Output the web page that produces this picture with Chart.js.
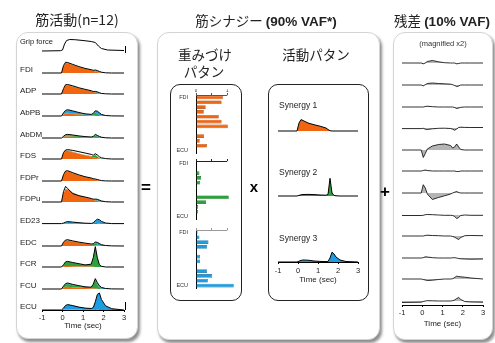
<!DOCTYPE html>
<html>
<head>
<meta charset="utf-8">
<script src="https://cdn.jsdelivr.net/npm/chart.js@4.4.1/dist/chart.umd.min.js"></script>
<style>
  body { margin: 0; width: 495px; height: 343px; background: #fff; position: relative; overflow: hidden;
         font-family: "Liberation Sans", Arial, sans-serif; -webkit-font-smoothing: antialiased; }
  .box { position: absolute; border: 1px solid #d4d4d4; border-radius: 12px; background: #fff;
         box-shadow: 2px 3px 3px rgba(0,0,0,0.45); }
  .inner { position: absolute; border: 1px solid #222; border-radius: 10px; }
  .lbl { position: absolute; white-space: nowrap; color: #222; will-change: transform; }
  .jp { font-family: "Noto Sans CJK JP", sans-serif; }
  canvas { position: absolute; }
</style>
</head>
<body>
<div class="box" style="left:16px;top:32px;width:120px;height:305px"></div>
<div class="box" style="left:157px;top:32px;width:221px;height:306px"></div>
<div class="box" style="left:393px;top:32px;width:98px;height:306px"></div>
<div class="inner" style="left:170px;top:84px;width:70px;height:215px"></div>
<div class="inner" style="left:268px;top:84px;width:99px;height:215px"></div>

<script>
// time axis
const timeTicks = [-1, 0, 1, 2, 3];
const T = [-1, -0.05, 0.05, 0.15, 0.25, 0.5, 0.8, 1.1, 1.4, 1.5, 1.6, 1.7, 1.8, 1.9, 2.1, 2.4, 3];

const muscles = ["FDI", "ADP", "AbPB", "AbDM", "FDS", "FDPr", "FDPu", "ED23", "EDC", "FCR", "FCU", "ECU"];

// grip force trace
const gripTime = [-1, -0.1, 0, 0.1, 0.2, 0.35, 0.6, 1.0, 1.4, 1.6, 1.75, 1.9, 2.2, 3];
const gripForce = [0, 0.3, 1, 7, 10.5, 11.5, 11.3, 10.5, 9.5, 8.5, 5, 2.5, 1, 0.5];

// EMG reconstruction, part from synergy 1 (orange)
const emgSyn1 = [
  [0,0,7,10,9.8,8,6,4.3,3,2.2,1.5,1,0.6,0.3,0,0,0],
  [0,0,5,8.5,8.6,7.4,5.7,4.3,3,2,1.3,0.8,0.4,0.2,0,0,0],
  [0,0,1.5,2.5,2.5,2,1.5,1,0.6,0.4,0.2,0.1,0,0,0,0,0],
  [0,0,1,1.6,1.6,1.3,1,0.7,0.4,0.3,0.2,0,0,0,0,0,0],
  [0,0,6,8.5,8.3,6.8,5.3,3.8,2.6,1.8,1.2,0.7,0.3,0.1,0,0,0],
  [0,0,6,9.5,9.8,7.8,5.8,4,2.8,2,1.3,0.8,0.4,0.1,0,0,0],
  [0,0,9,13,12.5,9,6.5,4.7,3.2,2.3,1.5,1,0.5,0.2,0,0,0],
  [0,0,0,0.1,0.1,0.1,0.1,0,0,0,0,0,0,0,0,0,0],
  [0,0,3.5,5.2,5.4,4.4,3.4,2.5,1.6,1.1,0.7,0.4,0.2,0,0,0,0],
  [0,0,0.6,1,1,0.8,0.6,0.4,0.3,0.2,0.1,0,0,0,0,0,0],
  [0,0,1.5,2.2,2.3,1.8,1.4,1,0.7,0.5,0.3,0.2,0.1,0,0,0,0],
  [0,0,0.2,0.3,0.3,0.2,0.2,0.1,0,0,0,0,0,0,0,0,0]
];
// part from synergy 2 (green)
const emgSyn2 = [
  [0,0,0,0.2,0.3,0.3,0.2,0.2,0.2,0.4,1,0.6,0.2,0,0,0,0],
  [0,0,0,0.2,0.3,0.3,0.2,0.2,0.2,0.3,0.8,0.5,0.2,0,0,0,0],
  [0,0,0.3,0.6,0.7,0.6,0.5,0.3,0.4,1.5,3.5,2,0.6,0.2,0,0,0],
  [0,0,0.3,1,1.2,1,0.7,0.4,0.4,1,2.5,1.2,0.3,0.1,0,0,0],
  [0,0,0,0.3,0.4,0.4,0.3,0.2,0.3,1.2,3,1.5,0.4,0.1,0,0,0],
  [0,0,0,0.1,0.2,0.2,0.1,0.1,0.1,0.2,0.5,0.3,0.1,0,0,0,0],
  [0,0,0,0.1,0.2,0.2,0.1,0.1,0.1,0.3,0.7,0.4,0.1,0,0,0,0],
  [0,0,0.2,0.4,0.5,0.4,0.3,0.2,0.2,0.6,1.5,0.8,0.3,0.1,0,0,0],
  [0,0,0.1,0.3,0.4,0.3,0.2,0.2,0.2,0.8,2.2,1,0.3,0.1,0,0,0],
  [0,0,1.5,3.8,4.2,3.4,2.5,1.6,2.5,9,20,9,2,0.5,0,0,0],
  [0,0,1,2.3,2.6,2,1.5,1,1,4,9,4,1,0.3,0,0,0],
  [0,0,0.2,0.4,0.5,0.4,0.3,0.2,0.2,0.4,1,0.5,0.1,0,0,0,0]
];
// part from synergy 3 (blue)
const emgSyn3 = [
  [0,0,0,0.1,0.2,0.2,0.1,0,0,0,0.3,0.6,0.7,0.4,0.1,0,0],
  [0,0,0,0.2,0.3,0.3,0.2,0.1,0,0,0.3,0.6,0.6,0.3,0.1,0,0],
  [0,0,1.2,2.2,2.8,2.3,1.3,0.8,0.5,0.5,1.2,2.5,2.5,1.4,0.5,0.1,0],
  [0,0,0.2,0.6,0.7,0.6,0.3,0.2,0.1,0.2,0.6,1.2,1.2,0.6,0.2,0,0],
  [0,0,0,0,0.1,0.1,0,0,0,0,0.2,0.4,0.4,0.2,0,0,0],
  [0,0,0,0.1,0.2,0.2,0.1,0.1,0,0,0.1,0.3,0.3,0.2,0,0,0],
  [0,0,0,0.2,0.3,0.3,0.2,0.1,0,0.1,0.6,1.2,1.2,0.7,0.2,0,0],
  [0,0,0.5,1.2,1.6,1.3,0.8,0.5,0.3,0.4,1.5,3.5,3.6,2.2,0.8,0.2,0],
  [0,0,0.1,0.3,0.4,0.3,0.2,0.1,0.1,0.2,0.8,1.8,1.9,1.1,0.4,0.1,0],
  [0,0,0.1,0.3,0.4,0.3,0.2,0.1,0,0,0.1,0.3,0.3,0.2,0,0,0],
  [0,0,0.3,0.7,0.9,0.7,0.4,0.2,0.1,0.2,0.8,2,2.2,1.3,0.5,0.1,0],
  [0,0,1.5,3.8,4.6,3.8,2.4,1.6,1.3,2,7,15,16.5,10,4,1.2,0]
];
// recorded EMG (black outline)
const emgTotal = [
  [0,0,7.5,10.8,10.5,8.6,6.4,4.6,3.3,2.7,3,2.4,1.6,0.8,0.2,0,0],
  [0,0,5.5,9.3,9.5,8.2,6.2,4.7,3.3,2.5,2.6,2.1,1.3,0.6,0.2,0,0],
  [0,0,3.2,5.6,6.3,5.1,3.5,2.2,1.6,2.6,5.2,4.8,3.2,1.6,0.5,0.1,0],
  [0,0,1.7,3.3,3.6,3,2.1,1.4,1,1.6,3.6,2.6,1.6,0.8,0.2,0,0],
  [0,0,6.5,9,9.4,8.6,7.3,6,4.6,3.8,5.3,4,2.2,1.2,0.4,0,0],
  [0,0,6.4,10,10.3,8.3,6.1,4.3,3,2.3,2,1.5,0.9,0.4,0.1,0,0],
  [0,0,10.5,15.6,13.5,8.4,6.3,5,3.5,2.8,2.9,2.7,1.9,1,0.3,0,0],
  [0.4,0.4,0.9,1.9,2.4,1.9,1.3,0.8,0.6,1.1,3.3,4.8,4.3,2.6,1,0.4,0.4],
  [0,0,3.8,6,6.3,5.1,3.9,2.9,2,2.2,4,3.6,2.5,1.3,0.5,0.1,0],
  [0,0,2.3,5.2,5.6,4.5,3.3,2.1,2.8,9.3,20.4,9.3,2.3,0.7,0,0,0],
  [0,0,2.9,5.4,6,4.6,3.3,2.2,1.8,4.8,10.4,6.3,3.4,1.6,0.5,0.1,0],
  [0,0,1.9,4.6,5.4,4.4,2.9,1.9,1.5,2.4,8.2,15.6,17,10.5,4.2,1.3,0]
];

// activation patterns
const synergy1 = [0,0,8,11.4,10.5,8,6.3,4.8,3,1.5,0.3,0,0,0,0,0,0];
const synergy2 = [0,0,0.6,1.2,1.5,1.6,1.4,1,0.8,1.5,17.7,3,0.6,0.2,0,0,0];
const synergy3 = [0,0,0.8,1.6,2,1.8,1,0.6,0.4,0.5,4,9.8,8,5,2,0.5,0];

// weightings
const weightTicks = [0, 0.5, 1];
const weights1 = [0.86, 0.82, 0.31, 0.25, 0.73, 0.82, 1.02, 0, 0.26, 0.12, 0.35, 0];
const weights2 = [0.02, 0, 0.11, 0.16, 0.13, 0.04, 0, 1.05, 0.32, 0.07, 0.07, 0];
const weights3 = [0.05, 0.11, 0.40, 0.35, 0.03, 0.13, 0.13, 0, 0.35, 0.52, 0.38, 1.21];

// residual (magnified x2)
const residual = [
  [0,0,-0.8,0,1.5,2.5,1.2,0.3,0,0,0,-0.8,-0.5,0,0,0,0],
  [0,0,-0.8,0.3,1.5,2,1.5,1.2,0.8,0.3,-0.5,-1.5,-1,0,0,0,0],
  [0,0,0,0.5,0.8,0.3,0,0,0,0,-0.5,-1.5,-1,-0.3,0,0,0],
  [-0.6,-0.6,-0.3,-1.2,-1.5,-0.8,-0.3,-0.2,-0.5,-1.2,-2.2,-1,0.5,0.8,0.6,0.5,0.5],
  [0,0,-7.5,-3.5,1,4,5.5,6,4.5,2,3,6,3,0.5,0,0,0],
  [0,0,0.5,1,0.5,0,0,0,0,0,0,-0.5,-0.5,0,0,0,0],
  [0,0,8.3,5,-1,-6.5,-4.5,-2.8,-1,0,0.8,1.5,0.5,0,0,0,0],
  [-0.5,-0.5,-0.3,0.3,0.5,0.3,0,-0.3,-0.3,-0.5,-1.5,-3.5,-2.5,-0.5,0,-0.3,-0.3],
  [0,0,0,0.5,0.8,0.5,0.3,0,0,-0.5,-1.2,-2.5,-3.5,-1.5,0.3,0.5,0.3],
  [0,0,0.3,1.2,1,0.3,0,0,0,0.2,0.3,0,-0.5,-0.8,-1,-1.2,-1],
  [0,0,-0.5,-1,-1.5,-1.2,-0.5,0,0,0.3,1.5,2.8,2.5,2.2,1.8,1,0],
  [-1.5,-1.2,-0.5,0,0.3,0.2,0,0,0,0.3,1,2.5,3.5,1.5,-0.5,-1,-1.2]
];

const ORANGE = "#F0650F", GREEN = "#2BA33A", BLUE = "#1C9DE2";

Chart.defaults.font.family = '"Liberation Sans", Arial, sans-serif';
Chart.defaults.animation = false;
Chart.defaults.responsive = false;
Chart.defaults.events = [];
Chart.defaults.plugins.legend.display = false;
Chart.defaults.plugins.tooltip.enabled = false;
Chart.defaults.elements.point.radius = 0;
Chart.defaults.elements.line.tension = 0;

const pts = (ys, xs) => ys.map((y, i) => ({ x: xs[i], y: y }));

function addCanvas(left, top, w, h) {
  const c = document.createElement("canvas");
  c.width = w; c.height = h;
  c.style.left = left + "px"; c.style.top = top + "px";
  c.style.width = w + "px"; c.style.height = h + "px";
  document.body.appendChild(c);
  return c;
}

// text placed at integer pixels
function label(html, x, y, size, opt) {
  opt = opt || {};
  const d = document.createElement("div");
  d.className = "lbl" + (opt.jp ? " jp" : "");
  d.innerHTML = html;
  const lh = Math.round(size * 1.3);
  d.style.fontSize = size + "px";
  d.style.lineHeight = lh + "px";
  d.style.height = lh + "px";
  d.style.top = Math.round(y - lh / 2) + "px";
  if (opt.left) {
    d.style.left = Math.round(x) + "px";
  } else {
    d.style.left = Math.round(x - 100) + "px";
    d.style.width = "200px";
    d.style.textAlign = "center";
  }
  if (opt.color) d.style.color = opt.color;
  if (opt.bold) d.style.fontWeight = "bold";
  document.body.appendChild(d);
}

function timeAxis(ax) {
  return {
    type: "linear", min: -1, max: 3, position: "bottom",
    afterBuildTicks: (s) => { s.ticks = timeTicks.map((v) => ({ value: v })); },
    border: { display: true, color: "#000", width: 1 },
    grid: { display: true, drawOnChartArea: false, drawTicks: true, tickLength: ax.tl, color: "#000" },
    ticks: { padding: ax.pad, font: { size: 7.5 }, color: "#222", maxRotation: 0 },
    title: { display: true, text: "Time (sec)", padding: 0, font: { size: 8 }, color: "#222" },
    afterFit: (s) => { s.height = ax.h; }
  };
}

// small trace chart, 1 data unit = 1 px vertically
function traceChart(areaLeft, areaWidth, baseline, ymin, ymax, datasets, ax) {
  const padX = 8, padTop = 2;
  const axisH = ax ? ax.h : 0;
  const c = addCanvas(areaLeft - padX, Math.round(baseline - ymax - padTop),
                      areaWidth + 2 * padX, padTop + (ymax - ymin) + axisH);
  return new Chart(c, {
    type: "line",
    data: { datasets: datasets },
    options: {
      layout: { padding: { left: padX, right: padX, top: padTop, bottom: 0 } },
      scales: {
        x: ax ? timeAxis(ax) : { type: "linear", min: -1, max: 3, display: false },
        y: { display: false, min: ymin, max: ymax, stacked: true }
      }
    }
  });
}

// ---- left panel: muscle activity ----
label("筋活動(n=12)", 77, 19, 14, { jp: true });
label("Grip force", 20, 42, 7.5, { left: true });
traceChart(42, 82, 51, -1, 22, [
  { data: pts(gripForce, gripTime), borderColor: "#000", borderWidth: 1, fill: false }
]);

muscles.forEach((m, i) => {
  const base = 72.7 + 21.6 * i;
  const last = i === muscles.length - 1;
  label(m, 20, base - 3, 8, { left: true });
  traceChart(42, 82, base, last ? 0 : -1, 22, [
    { data: pts(emgSyn1[i], T), backgroundColor: ORANGE, borderWidth: 0, fill: "origin", stack: "s" },
    { data: pts(emgSyn2[i], T), backgroundColor: GREEN, borderWidth: 0, fill: "-1", stack: "s" },
    { data: pts(emgSyn3[i], T), backgroundColor: BLUE, borderWidth: 0, fill: "-1", stack: "s" },
    { data: pts(emgTotal[i], T), borderColor: "#000", borderWidth: 1, fill: false, stack: "e", order: -1 }
  ], last ? { h: 21, tl: 2, pad: 1 } : null);
});

// scale bars
[[125, 46, 7], [125, 302, 8]].forEach(([x, y, h]) => {
  const d = document.createElement("div");
  d.style.cssText = `position:absolute;left:${x}px;top:${y}px;width:1px;height:${h}px;background:#000`;
  document.body.appendChild(d);
});

// ---- middle panel: synergies ----
label('筋シナジー <b style="font-family:Liberation Sans,Arial,sans-serif">(90% VAF*)</b>', 266, 20, 13.5, { jp: true });
label("重みづけ", 205, 54, 13.5, { jp: true });
label("パタン", 204, 71, 13.5, { jp: true });
label("活動パタン", 316, 54, 13.5, { jp: true });

const weightAxisLine = {
  id: "weightAxisLine",
  afterDraw(chart, args, opts) {
    const x = chart.scales.x, ctx = chart.ctx;
    const y = Math.round(chart.chartArea.top) + 0.5;
    ctx.save();
    ctx.strokeStyle = opts.color;
    ctx.lineWidth = 1;
    ctx.beginPath();
    ctx.moveTo(x.getPixelForValue(0), y);
    ctx.lineTo(x.getPixelForValue(1), y);
    ctx.stroke();
    ctx.restore();
  }
};

function weightChart(values, color, edge, areaTop, showNums, lineColor) {
  const axisH = showNums ? 6 : 2, padV = 14, yW = 20, padR = 6;
  const areaH = 58, areaW = 39;
  const c = addCanvas(176, Math.round(areaTop - axisH - padV), yW + areaW + padR, padV + axisH + areaH + padV);
  return new Chart(c, {
    type: "bar",
    data: {
      labels: muscles,
      datasets: [{ data: values, backgroundColor: color, borderColor: edge, borderWidth: 0.6,
                   barPercentage: 0.75, categoryPercentage: 1 }]
    },
    options: {
      indexAxis: "y",
      layout: { padding: { left: 0, right: padR, top: padV, bottom: padV } },
      scales: {
        x: {
          type: "linear", position: "top", min: 0, max: 1.25,
          afterBuildTicks: (s) => { s.ticks = weightTicks.map((v) => ({ value: v })); },
          grid: { drawOnChartArea: false, drawTicks: true, tickLength: 2, color: lineColor },
          border: { display: false },
          ticks: { display: showNums, font: { size: 4.5 }, padding: 0, color: "#333",
                   callback: (v) => (v === 0 || v === 1) ? String(v) : "" },
          afterFit: (s) => { s.height = axisH; }
        },
        y: {
          position: "left",
          grid: { display: false, drawTicks: false },
          border: { display: true, color: "#000", width: 1 },
          ticks: { autoSkip: false, font: { size: 5.5 }, color: "#333", padding: 8,
                   callback: (v, i) => (i === 0 || i === muscles.length - 1) ? muscles[i] : "" },
          afterFit: (s) => { s.width = yW; }
        }
      },
      plugins: { weightAxisLine: { color: lineColor } }
    },
    plugins: [weightAxisLine]
  });
}

weightChart(weights1, ORANGE, "#9a3d05", 95, true, "#555");
weightChart(weights2, GREEN, "#17661f", 160.5, false, "#222");
weightChart(weights3, BLUE, "#0f5f8c", 230.3, false, "#999");

const synergies = [synergy1, synergy2, synergy3];
const synColors = [ORANGE, GREEN, BLUE];
const synBase = [131, 196, 262.3];
const synLabelY = [105, 172, 238];
synergies.forEach((s, i) => {
  const last = i === synergies.length - 1;
  label("Synergy " + (i + 1), 279, synLabelY[i], 8.5, { left: true });
  traceChart(278, 80, synBase[i], last ? 0 : -1, 19, [
    { data: pts(s, T), backgroundColor: synColors[i], borderColor: "#000", borderWidth: 1, fill: "origin" }
  ], last ? { h: 23, tl: 2, pad: 2.5 } : null);
});

label("x", 254, 187, 15, { bold: true, color: "#000" });
label("=", 146, 188, 17, { bold: true, color: "#000" });
label("+", 385, 192, 17, { bold: true, color: "#000" });

// ---- right panel: residual ----
label('残差 <b style="font-family:Liberation Sans,Arial,sans-serif">(10% VAF)</b>', 442, 20, 13.5, { jp: true });
label("(magnified x2)", 443, 44, 7.5, { color: "#333" });
residual.forEach((r, i) => {
  const base = 63.3 + 21.6 * i;
  const last = i === residual.length - 1;
  traceChart(402, 81, base, last ? -4 : -9, 9, [
    { data: pts(r, T), backgroundColor: "#b5b5b5", borderColor: "#000", borderWidth: 0.8, fill: "origin" }
  ], last ? { h: 24, tl: 2, pad: 1.5 } : null);
});
</script>
</body>
</html>
